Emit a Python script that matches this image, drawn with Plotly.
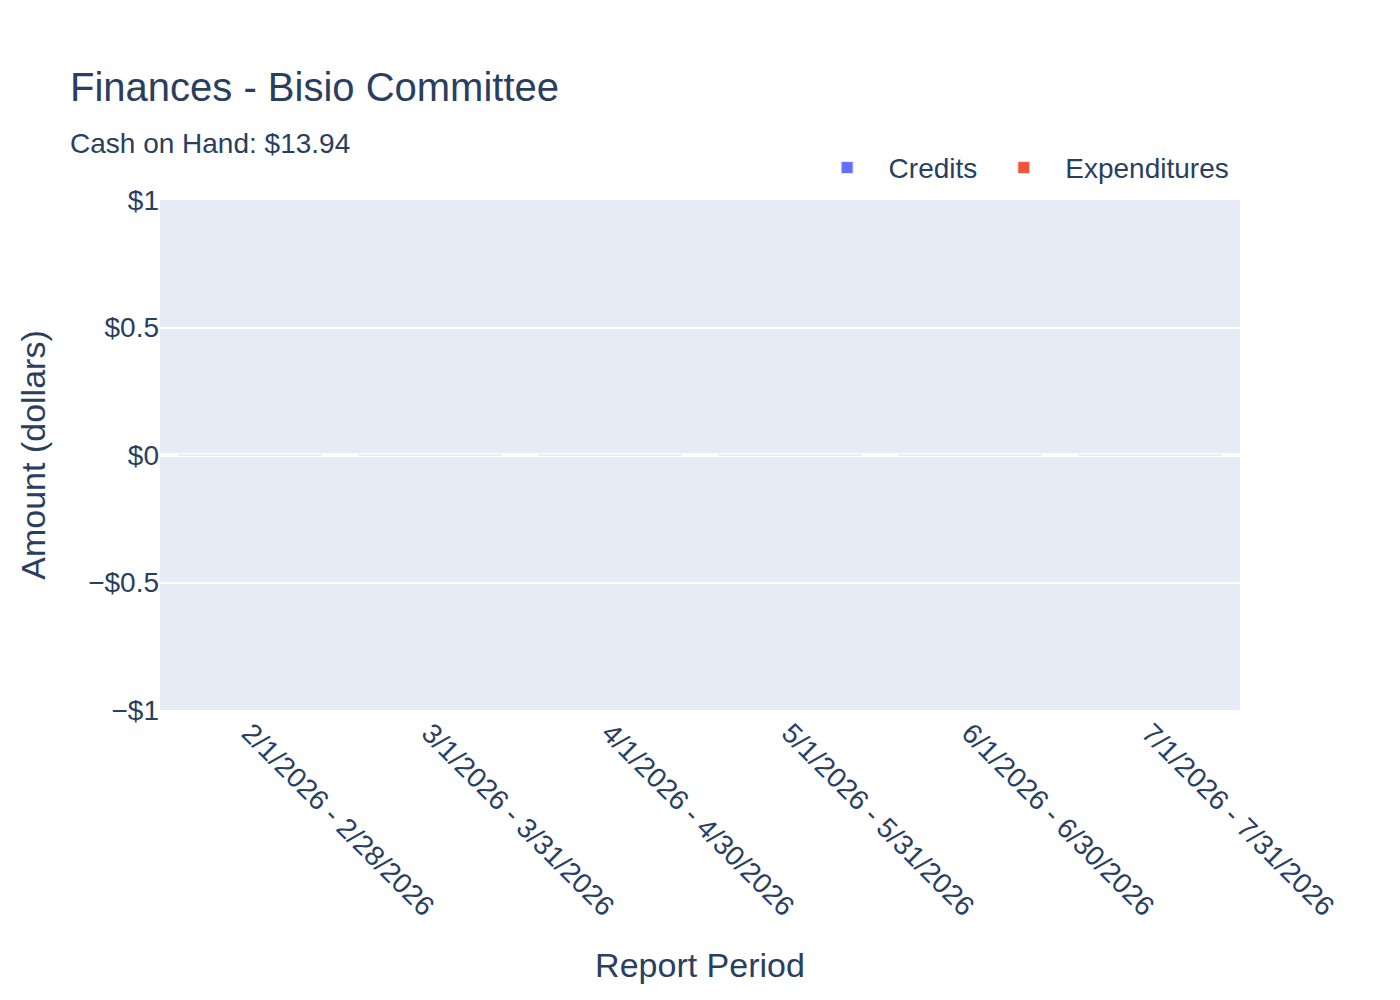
import plotly.graph_objects as go

# report periods and amounts (all zero for this committee)
periods = [
    "2/1/2026 - 2/28/2026",
    "3/1/2026 - 3/31/2026",
    "4/1/2026 - 4/30/2026",
    "5/1/2026 - 5/31/2026",
    "6/1/2026 - 6/30/2026",
    "7/1/2026 - 7/31/2026",
]
credits = [0, 0, 0, 0, 0, 0]
expenditures = [0, 0, 0, 0, 0, 0]
cash_on_hand = 13.94

fig = go.Figure()
fig.add_trace(go.Bar(x=periods, y=credits, name="Credits",
                     marker=dict(color="#636efa", line=dict(color="#E5ECF6", width=1))))
fig.add_trace(go.Bar(x=periods, y=[-v for v in expenditures], name="Expenditures",
                     marker=dict(color="#EF553B", line=dict(color="#E5ECF6", width=1))))

title_text = "Finances - Bisio Committee<br><span style='font-size:28px'>Cash on Hand: ${:.2f}</span>".format(cash_on_hand)

fig.update_layout(
    template="plotly",
    width=1400,
    height=1000,
    barmode="relative",
    font=dict(family="Liberation Sans, Arial", size=28, color="#2a3f5f"),
    title=dict(
        text=title_text,
        x=62 / 1400,
        yref="container",
        y=0.907,
        yanchor="top",
        font=dict(size=40),
    ),
    legend=dict(orientation="h", x=0.995, xanchor="right", y=1.014, yanchor="bottom",
                itemwidth=73, font=dict(size=28)),
    margin=dict(l=152, r=168, t=192, b=298),
    xaxis=dict(title=dict(text="Report Period", font=dict(size=34), standoff=32),
               tickangle=45, showgrid=False),
    yaxis=dict(title=dict(text="Amount (dollars)", font=dict(size=34), standoff=32),
               tickformat="$", range=[-1, 1], gridwidth=2, zerolinewidth=4),
)

fig.write_html("out.html")
